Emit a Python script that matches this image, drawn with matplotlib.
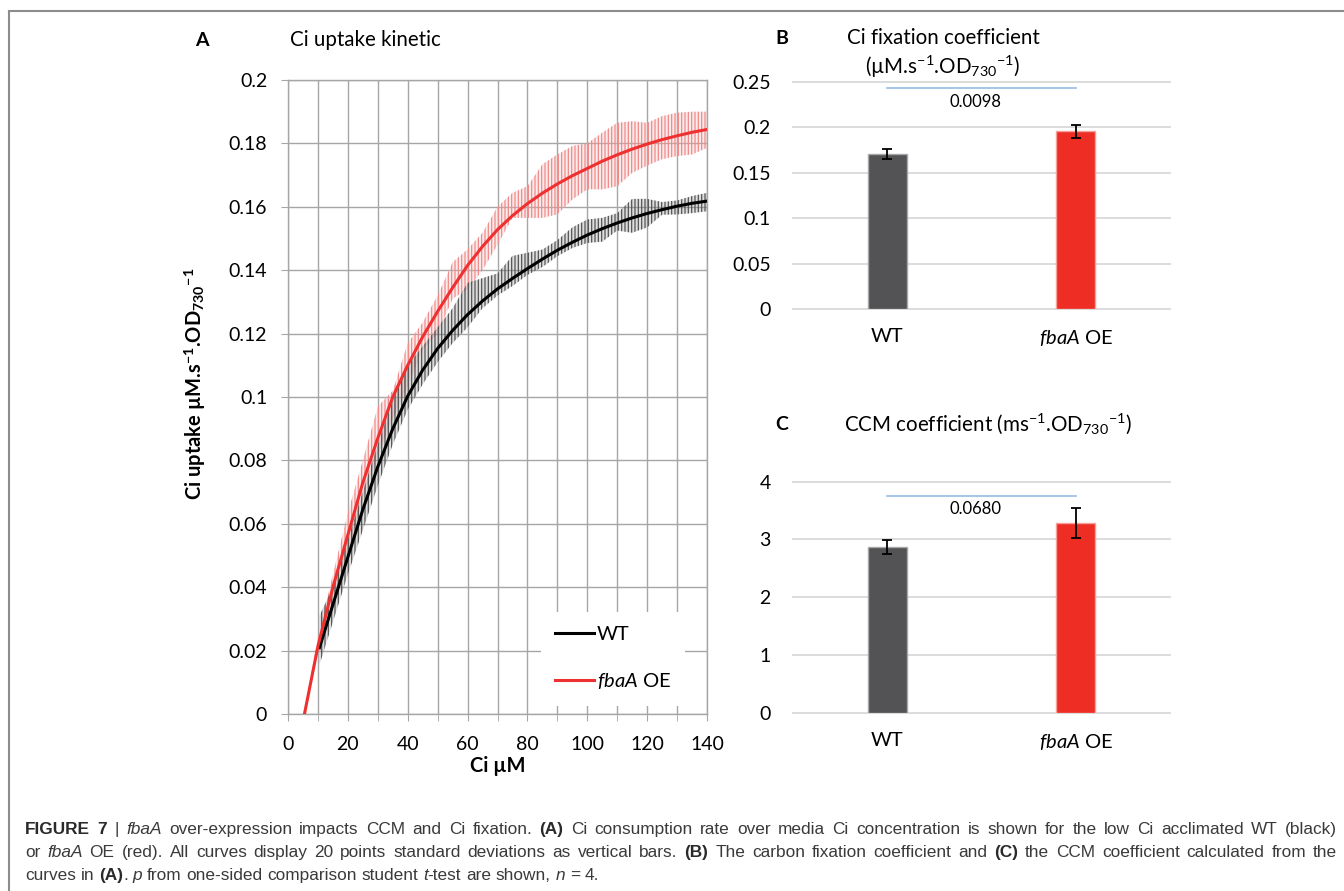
import matplotlib
matplotlib.use("Agg")
import matplotlib.pyplot as plt
from matplotlib.lines import Line2D
from matplotlib.ticker import MultipleLocator, FuncFormatter

plt.rcParams['font.family'] = ['Lato', 'DejaVu Sans']
plt.rcParams['mathtext.fontset'] = 'custom'
plt.rcParams['mathtext.rm'] = 'Lato'
plt.rcParams['mathtext.it'] = 'Lato:italic'
plt.rcParams['mathtext.bf'] = 'Lato:bold'
plt.rcParams['hatch.linewidth'] = 0.9

# ---- panel A: Ci uptake kinetic (fitted curves + SD envelope) ----
red_ci = [5.5, 10, 15, 20, 25, 30, 35, 40, 45, 50, 55, 60, 65, 70, 75, 80,
          85, 90, 95, 100, 105, 110, 115, 120, 125, 130, 135, 140]
red_rate = [0.0, 0.0214, 0.040, 0.0565, 0.073, 0.087, 0.100, 0.110, 0.119,
            0.127, 0.1345, 0.1415, 0.1475, 0.1528, 0.1572, 0.1610, 0.1643,
            0.1672, 0.1698, 0.1721, 0.1744, 0.1764, 0.1782, 0.1798, 0.1812,
            0.1824, 0.1835, 0.1844]
red_lo = [0.0, 0.019, 0.036, 0.051, 0.068, 0.082, 0.093, 0.1035, 0.115, 0.120,
          0.131, 0.134, 0.140, 0.148, 0.1565, 0.1565, 0.1565, 0.1576, 0.1623,
          0.1655, 0.1655, 0.1665, 0.1707, 0.173, 0.175, 0.176, 0.1765, 0.1786]
red_hi = [0.001, 0.024, 0.044, 0.0635, 0.080, 0.097, 0.102, 0.117, 0.1235,
          0.132, 0.1425, 0.1466, 0.1518, 0.160, 0.1644, 0.1665, 0.1734, 0.1765,
          0.1792, 0.180, 0.1834, 0.1865, 0.187, 0.1865, 0.1886, 0.1897, 0.190,
          0.190]

wt_ci = [10.5, 15, 20, 25, 30, 35, 40, 45, 50, 55, 60, 65, 70, 75, 80, 85,
         90, 95, 100, 105, 110, 115, 120, 125, 130, 135, 140]
wt_rate = [0.0209, 0.0345, 0.0495, 0.0645, 0.0780, 0.0900, 0.1003, 0.1085,
           0.1153, 0.1210, 0.1260, 0.1303, 0.1341, 0.1374, 0.1405, 0.1435,
           0.1463, 0.1488, 0.1511, 0.1531, 0.1549, 0.1565, 0.1579, 0.1591,
           0.1602, 0.1611, 0.1618]
wt_lo = [0.0155, 0.029, 0.044, 0.058, 0.072, 0.085, 0.096, 0.104, 0.111, 0.117,
         0.122, 0.128, 0.132, 0.135, 0.1385, 0.141, 0.1444, 0.147, 0.1486,
         0.149, 0.1525, 0.1518, 0.1535, 0.1575, 0.1576, 0.158, 0.1586]
wt_hi = [0.031, 0.040, 0.055, 0.070, 0.085, 0.099, 0.110, 0.116, 0.122, 0.128,
         0.136, 0.1375, 0.139, 0.1445, 0.1455, 0.1465, 0.1495, 0.1535, 0.156,
         0.1565, 0.158, 0.1625, 0.1625, 0.1615, 0.162, 0.1634, 0.1644]

# ---- panels B and C: bar charts ----
strains = ['WT', r'$\it{fbaA}$ OE']
fix_coef = [0.171, 0.1955]
fix_err = [0.0055, 0.0075]
fix_p = '0.0098'
ccm_coef = [2.87, 3.29]
ccm_err = [0.12, 0.26]
ccm_p = '0.0680'

W, H = 1344, 891
def fx(px):
    return px / W
def fy(py):
    return 1 - py / H

GRID = '#a6a6a6'
TICK_FS = 14
TITLE_FS = 14.8
fig = plt.figure(figsize=(W / 100, H / 100), dpi=100)

# frame around figure
fig.add_artist(Line2D([fx(9), 1], [fy(11), fy(11)], transform=fig.transFigure,
                      color='#8c8c8c', lw=1.5))
fig.add_artist(Line2D([fx(9), fx(9)], [0, fy(11)], transform=fig.transFigure,
                      color='#8c8c8c', lw=1.5))

# ---------------- panel A ----------------
axA = fig.add_axes([fx(288), fy(714), (707 - 288) / W, (714 - 80) / H])
axA.fill_between(red_ci, red_lo, red_hi, facecolor='#f6b3b3', alpha=0.25,
                 linewidth=0, zorder=2)
axA.fill_between(red_ci, red_lo, red_hi, facecolor='none', edgecolor='#f08a8a',
                 hatch='|||||', linewidth=0, zorder=2)
axA.fill_between(wt_ci, wt_lo, wt_hi, facecolor='#7a7a7a', alpha=0.25,
                 linewidth=0, zorder=3)
axA.fill_between(wt_ci, wt_lo, wt_hi, facecolor='none', edgecolor='#555555',
                 hatch='|||||', linewidth=0, zorder=3)
l_wt, = axA.plot(wt_ci, wt_rate, color='black', lw=2.2, zorder=4, label='WT')
l_oe, = axA.plot(red_ci, red_rate, color='#ee3030', lw=2.2, zorder=5,
                 label=r'$\it{fbaA}$ OE')

axA.set_xlim(0, 140)
axA.set_ylim(0, 0.2)
axA.xaxis.set_major_locator(MultipleLocator(20))
axA.xaxis.set_minor_locator(MultipleLocator(10))
axA.yaxis.set_major_locator(MultipleLocator(0.02))
axA.yaxis.set_major_formatter(FuncFormatter(lambda v, p: '%g' % round(v, 3)))
axA.grid(True, which='both', axis='x', color=GRID, lw=1.0, zorder=0)
axA.grid(True, which='major', axis='y', color=GRID, lw=1.0, zorder=0)
axA.set_axisbelow(True)
for s in axA.spines.values():
    s.set_color(GRID)
    s.set_linewidth(1.0)
axA.tick_params(axis='both', which='both', direction='out', length=5,
                color=GRID, labelsize=TICK_FS, labelcolor='black')
axA.tick_params(axis='x', which='both', pad=11)
axA.tick_params(axis='y', pad=10)
axA.set_xlabel('Ci µM', fontsize=14.5, fontweight='bold')
axA.xaxis.set_label_coords(0.5, -0.066)
axA.set_ylabel(r'Ci uptake µM.s$^{\mathbf{-1}}$.OD$_{\mathbf{730}}$$^{\mathbf{-1}}$',
               fontsize=14.5, fontweight='bold')
axA.yaxis.set_label_coords(-0.19, 0.52)

leg = axA.legend(handles=[l_wt, l_oe], loc='center', bbox_to_anchor=(0.776, 0.087),
                 frameon=True, facecolor='white', edgecolor='none', framealpha=1,
                 fontsize=14.5, handlelength=1.9, handletextpad=0.15,
                 labelspacing=1.4, borderpad=0.7)
leg.get_frame().set_boxstyle('square', pad=0)
leg.set_zorder(6)

fig.text(fx(202), fy(40), 'A', fontsize=14, fontweight='bold', ha='center', va='center')
fig.text(fx(290), fy(40), 'Ci uptake kinetic', fontsize=TITLE_FS, ha='left', va='center')

# ---------------- panels B and C ----------------
def bar_panel(ax, vals, errs, ymax, step, pval, sig_y, p_y):
    pos = list(range(len(vals)))
    ax.bar(pos, vals, width=0.207, color=['#535355', '#ee2e24'],
           edgecolor=['#a8a8a8', '#f5a09a'], linewidth=1.0, zorder=3)
    ax.errorbar(pos, vals, yerr=errs, fmt='none', ecolor='black', elinewidth=1.3,
                capsize=3.3, capthick=1.3, zorder=4)
    ax.plot([0, 1], [sig_y, sig_y], color='#9dc3e6', lw=1.3, zorder=4)
    ax.text(0.47, p_y, pval, fontsize=12, ha='center', va='center')
    ax.set_xlim(-0.5, 1.5)
    ax.set_ylim(0, ymax)
    ax.yaxis.set_major_locator(MultipleLocator(step))
    ax.yaxis.set_major_formatter(FuncFormatter(lambda v, p: '%g' % round(v, 3)))
    ax.set_xticks(pos)
    ax.set_xticklabels(strains)
    ax.grid(True, axis='y', color='#d9d9d9', lw=1.3, zorder=0)
    ax.set_axisbelow(True)
    for s in ax.spines.values():
        s.set_visible(False)
    ax.tick_params(axis='y', length=0, labelsize=TICK_FS, pad=16)
    ax.tick_params(axis='x', length=0, labelsize=14.5, pad=14)
    for gl in ax.get_ygridlines():
        gl.set_clip_on(False)

axB = fig.add_axes([fx(793), fy(309), (1170 - 793) / W, (309 - 82) / H])
bar_panel(axB, fix_coef, fix_err, 0.25, 0.05, fix_p, 0.2429, 0.2285)

axC = fig.add_axes([fx(793), fy(712.7), (1170 - 793) / W, (712.7 - 481.7) / H])
bar_panel(axC, ccm_coef, ccm_err, 4, 1, ccm_p, 3.75, 3.52)

fig.text(fx(782), fy(38), 'B', fontsize=14, fontweight='bold', ha='center', va='center')
fig.text(fx(943), fy(38), 'Ci fixation coefficient', fontsize=TITLE_FS, ha='center', va='center')
fig.text(fx(943), fy(67), r'(µM.s$^{-1}$.OD$_{730}$$^{-1}$)', fontsize=TITLE_FS,
         ha='center', va='center')
fig.text(fx(782), fy(424), 'C', fontsize=14, fontweight='bold', ha='center', va='center')
fig.text(fx(988), fy(424), r'CCM coefficient (ms$^{-1}$.OD$_{730}$$^{-1}$)',
         fontsize=TITLE_FS, ha='center', va='center')

# ---------------- caption ----------------
cap_style = {
    'n': dict(family='Liberation Sans', fontsize=12.4, color='#3a3a3a'),
    'b': dict(family='Liberation Sans', fontsize=12.4, color='#2a2a2a', fontweight='bold'),
    'i': dict(family='Liberation Sans', fontsize=12.4, color='#3a3a3a', fontstyle='italic'),
}
renderer = fig.canvas.get_renderer()

def text_width(s, st):
    t = fig.text(0, 0, s, **cap_style[st])
    w = t.get_window_extent(renderer).width
    t.remove()
    return w

def caption_line(segs, y_px, x0=25, x1=1337, justify=True):
    words = [[]]
    for txt, st in segs:
        parts = txt.split(' ')
        for i, p in enumerate(parts):
            if i:
                words.append([])
            if p:
                words[-1].append((p, st))
    words = [w for w in words if w]
    widths = [[text_width(p, st) for p, st in w] for w in words]
    total = sum(sum(w) for w in widths)
    gap = text_width('a a', 'n') - text_width('aa', 'n')
    if justify and len(words) > 1:
        gap = (x1 - x0 - total) / (len(words) - 1)
    x = x0
    for w, ws in zip(words, widths):
        for (p, st), pw in zip(w, ws):
            fig.text(fx(x), fy(y_px), p, ha='left', va='baseline', **cap_style[st])
            x += pw
        x += gap

caption_line([('FIGURE 7', 'b'), (' | ', 'n'), ('fbaA', 'i'),
              (' over-expression impacts CCM and Ci fixation. ', 'n'), ('(A)', 'b'),
              (' Ci consumption rate over media Ci concentration is shown for the low Ci acclimated WT (black)', 'n')],
             834)
caption_line([('or ', 'n'), ('fbaA', 'i'),
              (' OE (red). All curves display 20 points standard deviations as vertical bars. ', 'n'),
              ('(B)', 'b'), (' The carbon fixation coefficient and ', 'n'), ('(C)', 'b'),
              (' the CCM coefficient calculated from the', 'n')], 857)
caption_line([('curves in ', 'n'), ('(A)', 'b'), ('. ', 'n'), ('p', 'i'),
              (' from one-sided comparison student ', 'n'), ('t', 'i'),
              ('-test are shown, ', 'n'), ('n', 'i'), (' = 4.', 'n')], 880, justify=False)

fig.savefig('out.png', dpi=100)
